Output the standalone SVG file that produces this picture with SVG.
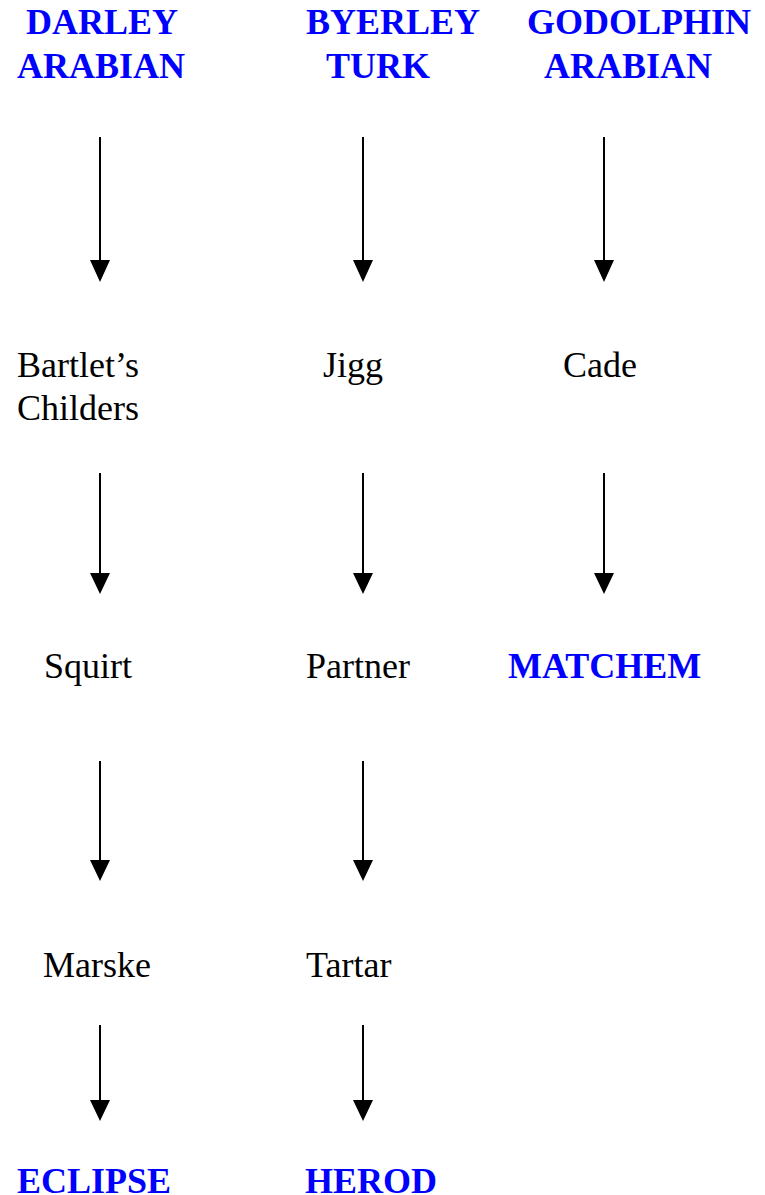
<svg xmlns="http://www.w3.org/2000/svg" width="765" height="1195" viewBox="0 0 765 1195">
<style>
text{font-family:"Liberation Serif","Times New Roman",serif;font-size:36px;fill:#000}
.b{font-weight:bold;fill:#0000FF}
.ln{stroke:#000;stroke-width:2;fill:none}
.hd{fill:#000;stroke:none}
</style>
<rect width="765" height="1195" fill="#fff"/>
<g id="darley"><text class="b" x="26" y="34">DARLEY</text><text class="b" x="17" y="78">ARABIAN</text></g>
<g id="byerley"><text class="b" x="306" y="34">BYERLEY</text><text class="b" x="326" y="78">TURK</text></g>
<g id="godolphin"><text class="b" x="527" y="34">GODOLPHIN</text><text class="b" x="544" y="78">ARABIAN</text></g>
<g id="bartlets"><text x="17" y="377">Bartlet’s</text><text x="17" y="420">Childers</text></g>
<g id="jigg"><text x="323" y="377">Jigg</text></g>
<g id="cade"><text x="563" y="377">Cade</text></g>
<g id="squirt"><text x="44" y="678">Squirt</text></g>
<g id="partner"><text x="306" y="678">Partner</text></g>
<g id="matchem"><text class="b" x="508" y="678">MATCHEM</text></g>
<g id="marske"><text x="43" y="977">Marske</text></g>
<g id="tartar"><text x="306" y="977">Tartar</text></g>
<g id="eclipse"><text class="b" x="17" y="1193">ECLIPSE</text></g>
<g id="herod"><text class="b" x="305" y="1193">HEROD</text></g>
<g id="connectors">
<path class="ln" d="M100,137V262M363,137V262M604,137V262"/>
<path class="hd" d="M90,260h20l-10,22zM353,260h20l-10,22zM594,260h20l-10,22z"/>
<path class="ln" d="M100,473V575M363,473V575M604,473V575"/>
<path class="hd" d="M90,573h20l-10,21zM353,573h20l-10,21zM594,573h20l-10,21z"/>
<path class="ln" d="M100,761V862M363,761V862"/>
<path class="hd" d="M90,860h20l-10,21zM353,860h20l-10,21z"/>
<path class="ln" d="M100,1025V1102M363,1025V1102"/>
<path class="hd" d="M90,1100h20l-10,21zM353,1100h20l-10,21z"/>
</g>
</svg>
